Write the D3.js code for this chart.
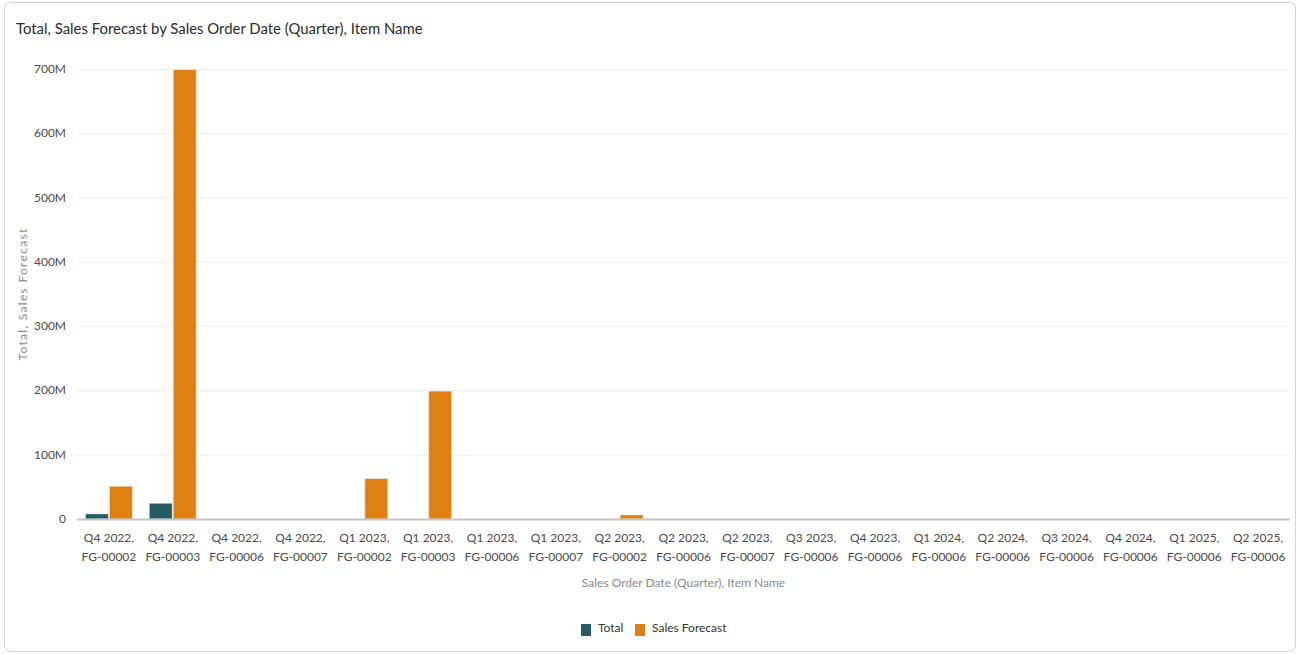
<!DOCTYPE html>
<html>
<head>
<meta charset="utf-8">
<script src="https://cdn.jsdelivr.net/npm/d3@7"></script>
<style>
  body { margin: 0; background: #fff; }
  text { font-family: Lato, "Open Sans", sans-serif; }
</style>
</head>
<body>
<script>
var width = 1298;
var height = 654;

// categories: quarter + item
var quarters = ["Q4 2022", "Q4 2022", "Q4 2022", "Q4 2022", "Q1 2023", "Q1 2023", "Q1 2023", "Q1 2023",
    "Q2 2023", "Q2 2023", "Q2 2023", "Q3 2023", "Q4 2023", "Q1 2024", "Q2 2024", "Q3 2024", "Q4 2024",
    "Q1 2025", "Q2 2025"];
var items = ["FG-00002", "FG-00003", "FG-00006", "FG-00007", "FG-00002", "FG-00003", "FG-00006", "FG-00007",
    "FG-00002", "FG-00006", "FG-00007", "FG-00006", "FG-00006", "FG-00006", "FG-00006", "FG-00006", "FG-00006",
    "FG-00006", "FG-00006"];

// values in millions
var total = [8, 24.5, 0, 0, 0, 0, 0, 0, 0, 0, 0, 0, 0, 0, 0, 0, 0, 0, 0];
var salesForecast = [51, 699, 0, 0, 63, 199, 0, 0, 6.5, 0, 0, 0, 0, 0, 0, 0, 0, 0, 0];

var seriesNames = ["Total", "Sales Forecast"];
var colors = ["#235c65", "#e07f12"];
var yTicks = [0, 100, 200, 300, 400, 500, 600, 700];

var margin = { left: 77, right: 8, top: 69, bottom: 135 };
var plotRight = width - margin.right;
var plotBottom = height - margin.bottom;

var svg = d3.select("body")
    .append("svg")
    .attr("width", width)
    .attr("height", height);

// outer frame
svg.append("rect")
    .attr("x", 4.5).attr("y", 2.5)
    .attr("width", width - 7).attr("height", height - 5)
    .attr("rx", 6)
    .attr("fill", "#fff")
    .attr("stroke", "#d6d3cf");

svg.append("text")
    .attr("x", 16)
    .attr("y", 34)
    .attr("font-size", "14.9px")
    .attr("fill", "#2b2b2b")
    .text("Total, Sales Forecast by Sales Order Date (Quarter), Item Name");

var rows = quarters.map(function(q, i) {
    return { i: i, q: q, item: items[i], values: [total[i], salesForecast[i]] };
});

var x = d3.scaleBand()
    .domain(d3.range(rows.length))
    .range([margin.left, plotRight]);

var xInner = d3.scaleBand()
    .domain([0, 1])
    .range([0, x.bandwidth()])
    .paddingInner(0.04)
    .paddingOuter(0.35);

var y = d3.scaleLinear()
    .domain([0, 700])
    .range([plotBottom, margin.top]);

// gridlines
svg.append("g")
    .selectAll("line")
    .data(yTicks.slice(1))
    .enter()
    .append("line")
    .attr("x1", margin.left)
    .attr("x2", plotRight)
    .attr("y1", function(d) { return y(d) + 0.5; })
    .attr("y2", function(d) { return y(d) + 0.5; })
    .attr("stroke", "#e9edf2")
    .attr("stroke-width", 1);

// y tick labels
svg.append("g")
    .selectAll("text")
    .data(yTicks)
    .enter()
    .append("text")
    .attr("x", 66)
    .attr("y", function(d) { return y(d) + 4; })
    .attr("text-anchor", "end")
    .attr("font-size", "12px")
    .attr("fill", "#4a4a4a")
    .text(function(d) { return d === 0 ? "0" : d + "M"; });

// bars
var groups = svg.append("g")
    .selectAll("g")
    .data(rows)
    .enter()
    .append("g")
    .attr("transform", function(d) { return "translate(" + x(d.i) + ",0)"; });

groups.selectAll("rect")
    .data(function(d) { return d.values.map(function(v, k) { return { k: k, v: v }; }); })
    .enter()
    .filter(function(d) { return d.v > 0; })
    .append("rect")
    .attr("x", function(d) { return xInner(d.k); })
    .attr("width", xInner.bandwidth())
    .attr("y", function(d) { return y(d.v); })
    .attr("height", function(d) { return plotBottom - y(d.v); })
    .attr("fill", function(d) { return colors[d.k]; })
    .attr("stroke", "rgba(255,255,255,0.5)")
    .attr("stroke-width", 1);

// baseline
svg.append("line")
    .attr("x1", margin.left)
    .attr("x2", plotRight)
    .attr("y1", plotBottom + 0.5)
    .attr("y2", plotBottom + 0.5)
    .attr("stroke", "#c4c4c4")
    .attr("stroke-width", 2);

// x tick labels
var xl = svg.append("g")
    .selectAll("text")
    .data(rows)
    .enter()
    .append("text")
    .attr("text-anchor", "middle")
    .attr("font-size", "12px")
    .attr("fill", "#4a4a4a");
xl.append("tspan")
    .attr("x", function(d) { return x(d.i) + x.bandwidth() / 2; })
    .attr("y", 542)
    .text(function(d) { return d.q + ","; });
xl.append("tspan")
    .attr("x", function(d) { return x(d.i) + x.bandwidth() / 2; })
    .attr("y", 561)
    .text(function(d) { return d.item; });

// axis titles
svg.append("text")
    .attr("x", (margin.left + plotRight) / 2)
    .attr("y", 587)
    .attr("text-anchor", "middle")
    .attr("font-size", "12px")
    .attr("fill", "#8a8a8a")
    .text("Sales Order Date (Quarter), Item Name");

svg.append("text")
    .attr("transform", "translate(27," + ((margin.top + plotBottom) / 2) + ") rotate(-90)")
    .attr("text-anchor", "middle")
    .attr("font-size", "12px")
    .attr("letter-spacing", "1.3px")
    .attr("fill", "#8a8a8a")
    .text("Total, Sales Forecast");

// legend
var legendX = [581, 635];
var legend = svg.append("g")
    .selectAll("g")
    .data(seriesNames)
    .enter()
    .append("g")
    .attr("transform", function(d, i) { return "translate(" + legendX[i] + ",624)"; });
legend.append("rect")
    .attr("width", 10)
    .attr("height", 12)
    .attr("fill", function(d, i) { return colors[i]; });
legend.append("text")
    .attr("x", 17)
    .attr("y", 8)
    .attr("font-size", "12px")
    .attr("fill", "#333")
    .text(function(d) { return d; });
</script>
</body>
</html>
